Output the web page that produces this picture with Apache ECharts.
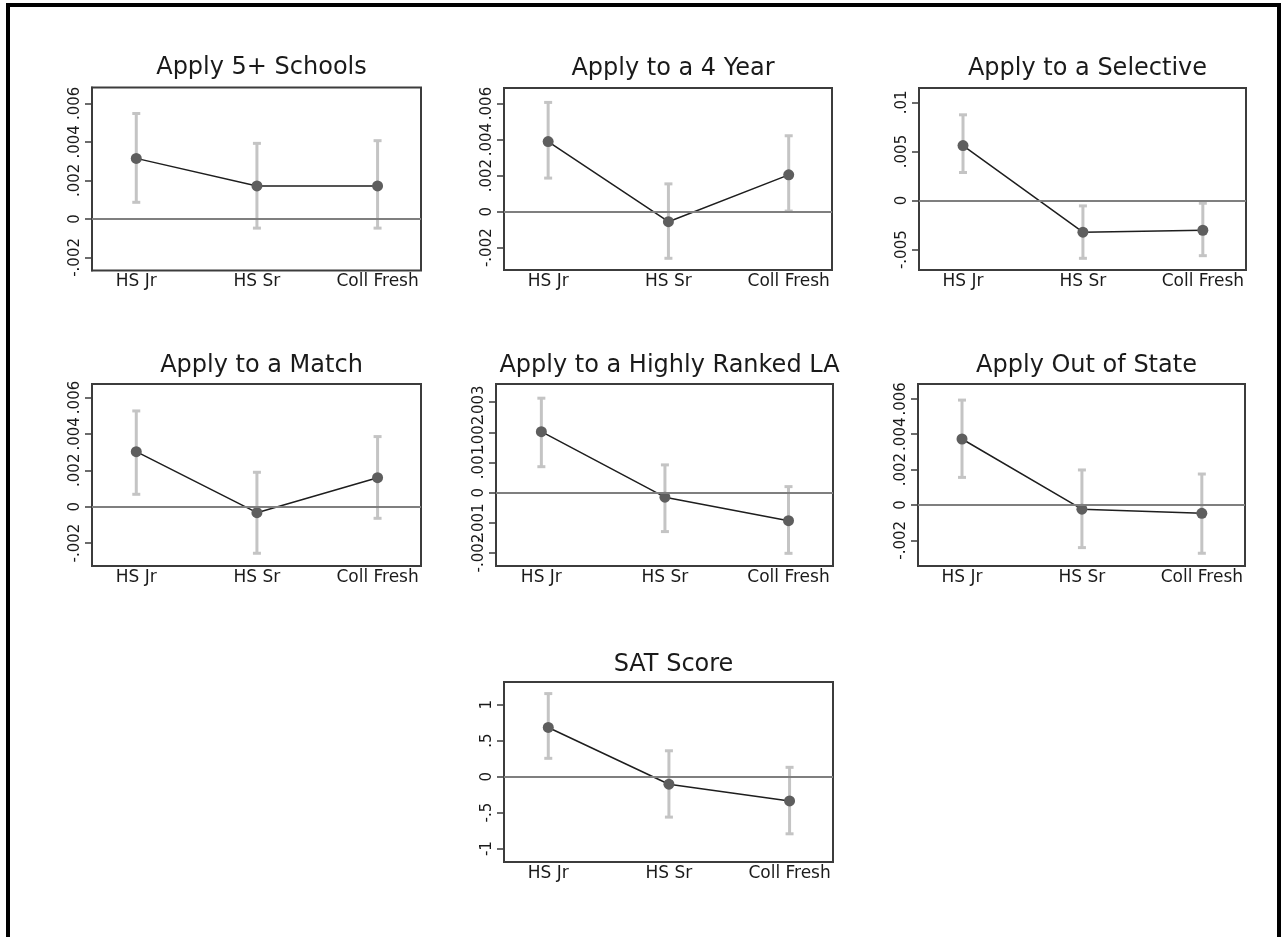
<!DOCTYPE html>
<html>
<head>
<meta charset="utf-8">
<script src="https://cdn.jsdelivr.net/npm/echarts@6/dist/echarts.min.js"></script>
<style>
html,body{margin:0;padding:0;background:#fff;}
#chart{width:1287px;height:937px;}
</style>
</head>
<body>
<div id="chart"></div>
<script>
// ---------------- data ----------------
const categories = ['HS Jr', 'HS Sr', 'Coll Fresh'];
const panelTitles = ['Apply 5+ Schools', 'Apply to a 4 Year', 'Apply to a Selective',
  'Apply to a Match', 'Apply to a Highly Ranked LA', 'Apply Out of State', 'SAT Score'];

const schoolsEst = [0.00314, 0.00171, 0.00171];
const schoolsLo  = [0.00086, -0.00048, -0.00048];
const schoolsHi  = [0.00547, 0.00392, 0.00406];

const fourYearEst = [0.00389, -0.00056, 0.00204];
const fourYearLo  = [0.00186, -0.00259, 0.00003];
const fourYearHi  = [0.00606, 0.00154, 0.00421];

const selectiveEst = [0.00561, -0.00322, -0.00302];
const selectiveLo  = [0.00286, -0.00588, -0.00561];
const selectiveHi  = [0.00874, -0.00054, -0.00027];

const matchEst = [0.00302, -0.00033, 0.00159];
const matchLo  = [0.00068, -0.00256, -0.00064];
const matchHi  = [0.00526, 0.00189, 0.00385];

const rankedLAEst = [0.00202, -0.00015, -0.00093];
const rankedLALo  = [0.00086, -0.00129, -0.00201];
const rankedLAHi  = [0.00313, 0.00092, 0.00020];

const outStateEst = [0.00373, -0.00024, -0.00047];
const outStateLo  = [0.00156, -0.00241, -0.00273];
const outStateHi  = [0.00593, 0.00198, 0.00175];

const satEst = [0.684, -0.105, -0.337];
const satLo  = [0.255, -0.562, -0.794];
const satHi  = [1.155, 0.360, 0.130];

const ticksA   = [-0.002, 0, 0.002, 0.004, 0.006];
const ticksSel = [-0.005, 0, 0.005, 0.01];
const ticksLA  = [-0.002, -0.001, 0, 0.001, 0.002, 0.003];
const ticksSAT = [-1, -0.5, 0, 0.5, 1];

// ---------------- layout ----------------
const panels = [
  {est: schoolsEst,   lo: schoolsLo,   hi: schoolsHi,   ticks: ticksA,   ymin: -0.00268, ymax: 0.00682, box: [92, 87.5, 421, 270.5], titleTop: 53},
  {est: fourYearEst,  lo: fourYearLo,  hi: fourYearHi,  ticks: ticksA,   ymin: -0.00324, ymax: 0.00686, box: [504, 88, 832, 270], titleTop: 54},
  {est: selectiveEst, lo: selectiveLo, hi: selectiveHi, ticks: ticksSel, ymin: -0.00707, ymax: 0.01147, box: [919, 88, 1246, 270], titleTop: 54},
  {est: matchEst,     lo: matchLo,     hi: matchHi,     ticks: ticksA,   ymin: -0.00326, ymax: 0.00674, box: [92, 384, 421, 566], titleTop: 351},
  {est: rankedLAEst,  lo: rankedLALo,  hi: rankedLAHi,  ticks: ticksLA,  ymin: -0.00243, ymax: 0.00360, box: [496, 384, 833, 566], titleTop: 351},
  {est: outStateEst,  lo: outStateLo,  hi: outStateHi,  ticks: ticksA,   ymin: -0.00345, ymax: 0.00684, box: [918, 384, 1245, 566], titleTop: 351},
  {est: satEst,       lo: satLo,       hi: satHi,       ticks: ticksSAT, ymin: -1.186,   ymax: 1.316,   box: [504, 682, 833, 862], titleTop: 650}
];

const FONT = 'DejaVu Sans';

function stataNum(v) {
  if (v === 0) return '0';
  let s = String(Math.round(v * 1e6) / 1e6);
  s = s.replace(/^0\./, '.').replace(/^-0\./, '-.');
  return s;
}

const grids = [], xAxes = [], yAxes = [], series = [], titles = [];

panels.forEach((p, i) => {
  const [l, t, r, b] = p.box;
  grids.push({
    left: l, top: t, width: r - l, height: b - t,
    show: true, borderColor: '#3c3c3c', borderWidth: 2, backgroundColor: 'transparent'
  });
  titles.push({
    text: panelTitles[i],
    left: (l + r) / 2, top: p.titleTop - 2, textAlign: 'center',
    textStyle: {fontFamily: FONT, fontSize: 24, fontWeight: 'normal', color: '#1a1a1a'}
  });
  xAxes.push({
    type: 'value', gridIndex: i, min: -0.367, max: 2.36, position: 'bottom',
    axisLine: {show: false, onZero: false}, axisTick: {show: false}, splitLine: {show: false},
    axisLabel: {
      customValues: [0, 1, 2], showMinLabel: true, showMaxLabel: true,
      formatter: v => categories[Math.round(v)],
      fontFamily: FONT, fontSize: 17, color: '#1a1a1a', margin: 3
    }
  });
  const evenTicks = p.ticks.filter((v, k) => k % 2 === 0);
  const oddTicks = p.ticks.filter((v, k) => k % 2 === 1);
  const labelStyle = {
    rotate: 90, formatter: stataNum,
    showMinLabel: true, showMaxLabel: true, hideOverlap: false,
    fontFamily: FONT, fontSize: 15, color: '#1a1a1a', margin: 9
  };
  // main y axis: line, all ticks, even-index labels
  yAxes.push({
    type: 'value', gridIndex: i, min: p.ymin, max: p.ymax, position: 'left', offset: 0,
    axisLine: {show: true, onZero: false, lineStyle: {color: '#3c3c3c', width: 2}},
    axisTick: {show: true, inside: false, customValues: p.ticks, length: 7, lineStyle: {color: '#3c3c3c', width: 1.5}},
    splitLine: {show: false},
    axisLabel: Object.assign({customValues: evenTicks}, labelStyle)
  });
  // companion y axis (same scale) carrying the odd-index labels
  yAxes.push({
    type: 'value', gridIndex: i, min: p.ymin, max: p.ymax, position: 'left', offset: 0,
    axisLine: {show: false, onZero: false},
    axisTick: {show: false},
    splitLine: {show: false},
    axisLabel: Object.assign({customValues: oddTicks}, labelStyle)
  });
  const yIdx = 2 * i;
  const ciData = categories.map((c, k) => [k, p.lo[k], p.hi[k]]);
  series.push({
    type: 'custom', xAxisIndex: i, yAxisIndex: yIdx, z: 2,
    silent: true,
    data: ciData,
    encode: {x: 0, y: [1, 2]},
    renderItem: function (params, api) {
      const x = api.value(0);
      const a = api.coord([x, api.value(1)]);
      const c = api.coord([x, api.value(2)]);
      const hw = 4;
      const st = {stroke: '#c4c4c4', lineWidth: 3};
      return {
        type: 'group',
        children: [
          {type: 'line', shape: {x1: a[0], y1: a[1], x2: c[0], y2: c[1]}, style: st},
          {type: 'line', shape: {x1: a[0] - hw, y1: a[1], x2: a[0] + hw, y2: a[1]}, style: st},
          {type: 'line', shape: {x1: c[0] - hw, y1: c[1], x2: c[0] + hw, y2: c[1]}, style: st}
        ]
      };
    },
    markLine: {
      silent: true, symbol: 'none', animation: false,
      label: {show: false},
      lineStyle: {color: '#7f7f7f', width: 2, type: 'solid'},
      data: [{yAxis: 0}]
    }
  });
  series.push({
    type: 'line', xAxisIndex: i, yAxisIndex: yIdx, z: 3,
    data: categories.map((c, k) => [k, p.est[k]]),
    symbol: 'circle', symbolSize: 11,
    itemStyle: {color: '#5e5e5e'},
    lineStyle: {color: '#1e1e1e', width: 1.5},
    silent: true
  });
});

const chart = echarts.init(document.getElementById('chart'), null, {renderer: 'canvas'});
chart.setOption({
  backgroundColor: '#fff',
  animation: false,
  title: titles,
  grid: grids,
  xAxis: xAxes,
  yAxis: yAxes,
  series: series,
  graphic: [{
    type: 'rect', z: 100, silent: true,
    shape: {x: 8, y: 5, width: 1271, height: 1000},
    style: {fill: 'none', stroke: '#000', lineWidth: 4}
  }]
});
</script>
</body>
</html>
